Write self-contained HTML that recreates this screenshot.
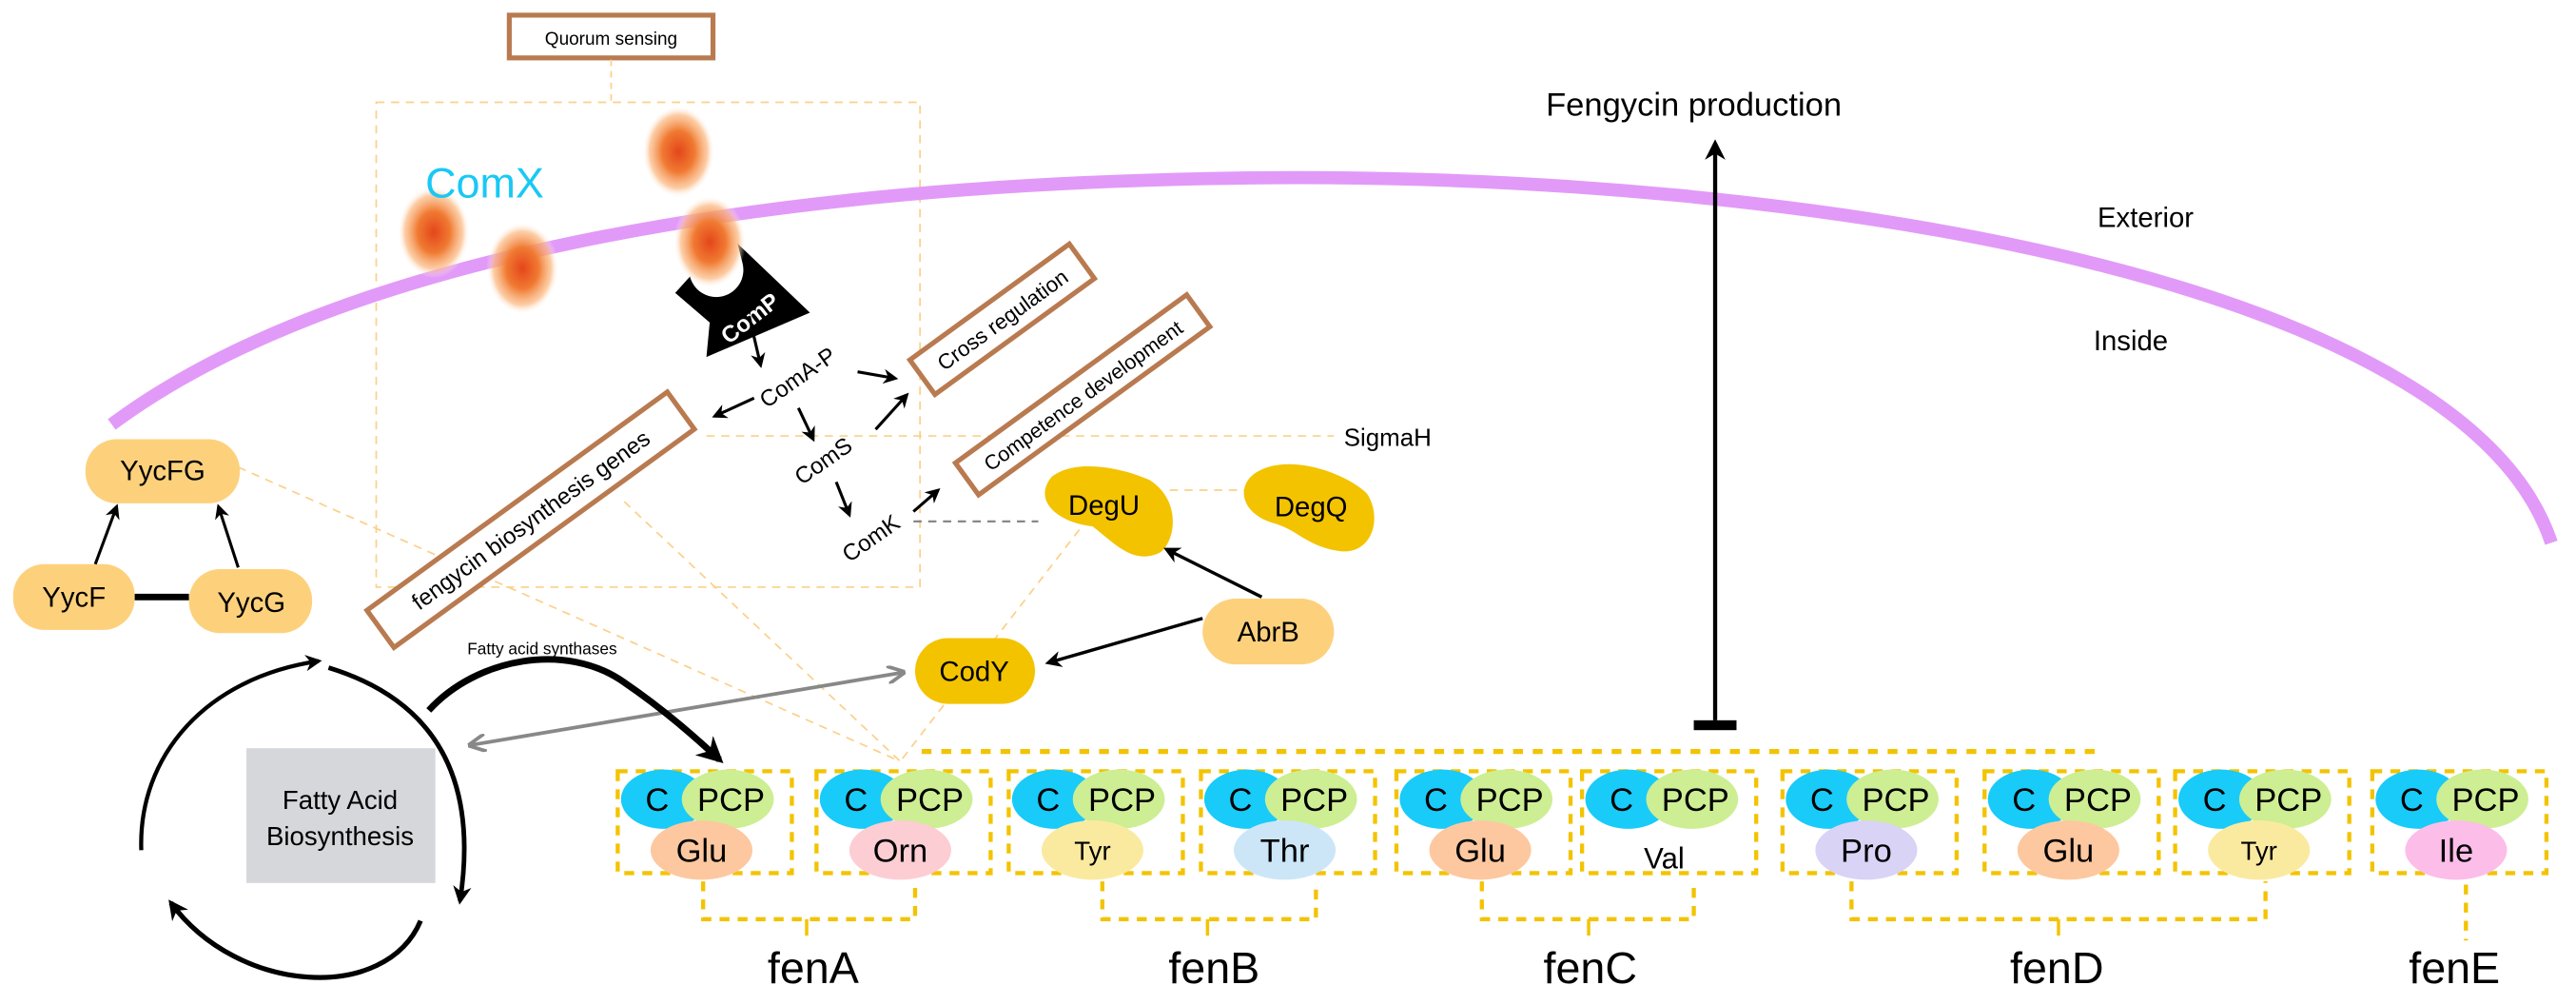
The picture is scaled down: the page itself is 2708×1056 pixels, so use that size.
<!DOCTYPE html>
<html><head><meta charset="utf-8"><style>
html,body{margin:0;padding:0;background:#fff;}
svg{display:block;font-family:"Liberation Sans",sans-serif;}
</style></head><body>
<svg width="2708" height="1056" viewBox="0 0 1568 611" xmlns="http://www.w3.org/2000/svg">
<defs>
<radialGradient id="blob"><stop offset="0" stop-color="#e4461a"/><stop offset="0.45" stop-color="#f07a32"/><stop offset="0.8" stop-color="#fbb880" stop-opacity="0.7"/><stop offset="1" stop-color="#fff" stop-opacity="0"/></radialGradient>
<marker id="ah" viewBox="0 0 10 10" refX="8" refY="5" markerWidth="5" markerHeight="5" orient="auto"><path d="M0,0 L10,5 L0,10 L3,5Z" fill="#000"/></marker>
<marker id="ahg" viewBox="0 0 10 10" refX="8" refY="5" markerWidth="5" markerHeight="5" orient="auto-start-reverse"><path d="M0,0 L10,5 L0,10" fill="none" stroke="#888" stroke-width="2"/></marker>
<marker id="ahb" viewBox="0 0 10 10" refX="8" refY="5" markerWidth="4" markerHeight="4" orient="auto"><path d="M0,0 L10,5 L0,10 L3,5Z" fill="#000"/></marker>
</defs>

<rect x="310" y="9" width="124" height="26" fill="#fff" stroke="#b97a50" stroke-width="3"/>
<text x="372" y="27" font-size="11" text-anchor="middle">Quorum sensing</text>
<line x1="372" y1="36" x2="372" y2="62" stroke="#fcd08a" stroke-width="1" stroke-dasharray="4,3"/>
<rect x="229" y="62" width="331" height="295" fill="none" stroke="#fcd08a" stroke-width="1" stroke-dasharray="5,4"/>

<g stroke="#fcd08a" stroke-width="1" stroke-dasharray="5,4" fill="none">
<line x1="145" y1="284" x2="548" y2="463"/>
<line x1="380" y1="305" x2="548" y2="463"/>
<line x1="657" y1="322" x2="548" y2="463"/>
<line x1="430" y1="265" x2="812" y2="265"/>
<line x1="712" y1="298" x2="760" y2="298"/>
</g>
<line x1="556" y1="317" x2="632" y2="317" stroke="#888" stroke-width="1.3" stroke-dasharray="5,4"/>

<path d="M68,258 C200,160 450,112 760,108 C1100,104 1500,170 1553,330" fill="none" stroke="#e29af8" stroke-width="8"/>

<ellipse cx="264" cy="141" rx="22" ry="28" fill="url(#blob)"/>
<ellipse cx="318" cy="163" rx="22" ry="28" fill="url(#blob)"/>
<ellipse cx="413" cy="92" rx="22" ry="28" fill="url(#blob)"/>
<text x="295" y="120" font-size="26" fill="#19c8f5" text-anchor="middle">ComX</text>

<path d="M411,178 L420,168 A16,16 0 0 0 452,160 L449,148 L493,190 L430,217 L432,196 Z" fill="#000"/>
<ellipse cx="432" cy="147" rx="22" ry="28" fill="url(#blob)"/>
<text x="457" y="198" font-size="14" fill="#fff" text-anchor="middle" transform="rotate(-38 457 194)" font-weight="bold">ComP</text>

<g transform="rotate(-36 610 194)"><rect x="550" y="181" width="120" height="26" fill="#fff" stroke="#b97a50" stroke-width="3"/><text x="610" y="199" font-size="13" text-anchor="middle">Cross regulation</text></g>
<g transform="rotate(-36 659 240)"><rect x="572" y="228" width="174" height="24" fill="#fff" stroke="#b97a50" stroke-width="3"/><text x="659" y="245" font-size="12.5" text-anchor="middle">Competence development</text></g>
<g transform="rotate(-36 323 316)"><rect x="210" y="302" width="226" height="28" fill="#fff" stroke="#b97a50" stroke-width="3"/><text x="323" y="321" font-size="14" text-anchor="middle">fengycin biosynthesis genes</text></g>

<text x="486" y="234" font-size="14" text-anchor="middle" transform="rotate(-35 486 230)">ComA-P</text>
<text x="501" y="285" font-size="14" text-anchor="middle" transform="rotate(-35 501 280)">ComS</text>
<text x="530" y="332" font-size="14" text-anchor="middle" transform="rotate(-35 530 327)">ComK</text>
<g stroke="#000" stroke-width="1.8" marker-end="url(#ah)">
<line x1="456" y1="192" x2="463" y2="222"/>
<line x1="459" y1="242" x2="435" y2="253"/>
<line x1="522" y1="226" x2="545" y2="230"/>
<line x1="533" y1="261" x2="552" y2="240"/>
<line x1="486" y1="248" x2="495" y2="267"/>
<line x1="509" y1="293" x2="517" y2="313"/>
<line x1="556" y1="311" x2="571" y2="298"/>
</g>
<text x="818" y="271" font-size="15">SigmaH</text>

<g font-size="17" text-anchor="middle">
<rect x="52" y="267" width="94" height="39" rx="19" fill="#fdd17c"/><text x="99" y="292">YycFG</text>
<rect x="8" y="343" width="74" height="40" rx="19" fill="#fdd17c"/><text x="45" y="369">YycF</text>
<rect x="115" y="346" width="75" height="39" rx="19" fill="#fdd17c"/><text x="153" y="372">YycG</text>
</g>
<line x1="82" y1="363" x2="115" y2="363" stroke="#000" stroke-width="4"/>
<g stroke="#000" stroke-width="1.8" marker-end="url(#ah)">
<line x1="58" y1="343" x2="71" y2="308"/>
<line x1="145" y1="345" x2="133" y2="308"/>
</g>

<path d="M640,290 C655,278 685,285 700,292 C720,305 715,330 706,336 C690,344 678,330 665,320 C645,318 628,305 640,290Z" fill="#f3c300"/>
<text x="672" y="313" font-size="17" text-anchor="middle">DegU</text>
<path d="M765,287 C785,275 820,288 832,300 C842,315 835,338 815,335 C795,332 790,322 775,318 C755,312 752,295 765,287Z" fill="#f3c300"/>
<text x="798" y="314" font-size="17" text-anchor="middle">DegQ</text>
<rect x="557" y="388" width="73" height="40" rx="20" fill="#f3c300"/><text x="593" y="414" font-size="17" text-anchor="middle">CodY</text>
<rect x="732" y="364" width="80" height="40" rx="20" fill="#fdd17c"/><text x="772" y="390" font-size="17" text-anchor="middle">AbrB</text>
<g stroke="#000" stroke-width="2" marker-end="url(#ah)">
<line x1="768" y1="363" x2="710" y2="334"/>
<line x1="732" y1="376" x2="638" y2="403"/>
</g>
<line x1="287" y1="453" x2="549" y2="409" stroke="#888" stroke-width="2.2" marker-start="url(#ahg)" marker-end="url(#ahg)"/>

<rect x="150" y="455" width="115" height="82" fill="#d5d7db"/>
<text x="207" y="492" font-size="16" text-anchor="middle">Fatty Acid</text>
<text x="207" y="514" font-size="16" text-anchor="middle">Biosynthesis</text>
<path d="M86,517 C84,460 125,412 194,402" fill="none" stroke="#000" stroke-width="2.5" marker-end="url(#ahb)"/>
<path d="M200,406 C262,425 292,470 280,548" fill="none" stroke="#000" stroke-width="2.8" marker-end="url(#ahb)"/>
<path d="M256,560 C235,610 145,605 104,549" fill="none" stroke="#000" stroke-width="3" marker-end="url(#ahb)"/>
<path d="M261,432 C290,400 345,390 380,415 C405,432 425,450 438,462" fill="none" stroke="#000" stroke-width="4" marker-end="url(#ahb)"/>
<text x="330" y="398" font-size="10" text-anchor="middle">Fatty acid synthases</text>

<text x="1031" y="70" font-size="20" text-anchor="middle">Fengycin production</text>
<line x1="1044" y1="438" x2="1044" y2="87" stroke="#000" stroke-width="2.5" marker-end="url(#ah)"/>
<rect x="1031" y="438" width="26" height="6" fill="#000"/>
<text x="1306" y="138" font-size="17" text-anchor="middle">Exterior</text>
<text x="1297" y="213" font-size="17" text-anchor="middle">Inside</text>

<line x1="561" y1="457" x2="1278" y2="457" stroke="#f3c300" stroke-width="3" stroke-dasharray="6,6"/>
<g stroke="#f3c300" stroke-width="2.5" fill="none" stroke-dasharray="6,5">
<rect x="376" y="469" width="106" height="62"/>
<rect x="497" y="469" width="106" height="62"/>
<rect x="614" y="469" width="106" height="62"/>
<rect x="731" y="469" width="106" height="62"/>
<rect x="850" y="469" width="106" height="62"/>
<rect x="963" y="469" width="106" height="62"/>
<rect x="1085" y="469" width="106" height="62"/>
<rect x="1208" y="469" width="106" height="62"/>
<rect x="1324" y="469" width="106" height="62"/>
<rect x="1444" y="469" width="106" height="62"/>
</g>
<g font-size="20" text-anchor="middle">
<ellipse cx="404" cy="486" rx="26" ry="18" fill="#18cbf8"/><ellipse cx="443" cy="486" rx="28" ry="18" fill="#cdee93"/><text x="400" y="493">C</text><text x="445" y="493">PCP</text>
<ellipse cx="427" cy="517" rx="31" ry="18" fill="#fdc89f"/><text x="427" y="524">Glu</text>

<ellipse cx="525" cy="486" rx="26" ry="18" fill="#18cbf8"/><ellipse cx="564" cy="486" rx="28" ry="18" fill="#cdee93"/><text x="521" y="493">C</text><text x="566" y="493">PCP</text>
<ellipse cx="548" cy="517" rx="31" ry="18" fill="#fdcdd4"/><text x="548" y="524">Orn</text>

<ellipse cx="642" cy="486" rx="26" ry="18" fill="#18cbf8"/><ellipse cx="681" cy="486" rx="28" ry="18" fill="#cdee93"/><text x="638" y="493">C</text><text x="683" y="493">PCP</text>
<ellipse cx="665" cy="517" rx="31" ry="18" fill="#faeaa0"/><text x="665" y="523" font-size="16">Tyr</text>

<ellipse cx="759" cy="486" rx="26" ry="18" fill="#18cbf8"/><ellipse cx="798" cy="486" rx="28" ry="18" fill="#cdee93"/><text x="755" y="493">C</text><text x="800" y="493">PCP</text>
<ellipse cx="782" cy="517" rx="31" ry="18" fill="#cce6f8"/><text x="782" y="524">Thr</text>

<ellipse cx="878" cy="486" rx="26" ry="18" fill="#18cbf8"/><ellipse cx="917" cy="486" rx="28" ry="18" fill="#cdee93"/><text x="874" y="493">C</text><text x="919" y="493">PCP</text>
<ellipse cx="901" cy="517" rx="31" ry="18" fill="#fdc89f"/><text x="901" y="524">Glu</text>

<ellipse cx="991" cy="486" rx="26" ry="18" fill="#18cbf8"/><ellipse cx="1030" cy="486" rx="28" ry="18" fill="#cdee93"/><text x="987" y="493">C</text><text x="1032" y="493">PCP</text>
<text x="1013" y="528" font-size="18">Val</text>

<ellipse cx="1113" cy="486" rx="26" ry="18" fill="#18cbf8"/><ellipse cx="1152" cy="486" rx="28" ry="18" fill="#cdee93"/><text x="1109" y="493">C</text><text x="1154" y="493">PCP</text>
<ellipse cx="1136" cy="517" rx="31" ry="18" fill="#d9d3f6"/><text x="1136" y="524">Pro</text>

<ellipse cx="1236" cy="486" rx="26" ry="18" fill="#18cbf8"/><ellipse cx="1275" cy="486" rx="28" ry="18" fill="#cdee93"/><text x="1232" y="493">C</text><text x="1277" y="493">PCP</text>
<ellipse cx="1259" cy="517" rx="31" ry="18" fill="#fdc89f"/><text x="1259" y="524">Glu</text>

<ellipse cx="1352" cy="486" rx="26" ry="18" fill="#18cbf8"/><ellipse cx="1391" cy="486" rx="28" ry="18" fill="#cdee93"/><text x="1348" y="493">C</text><text x="1393" y="493">PCP</text>
<ellipse cx="1375" cy="517" rx="31" ry="18" fill="#faeaa0"/><text x="1375" y="523" font-size="16">Tyr</text>

<ellipse cx="1472" cy="486" rx="26" ry="18" fill="#18cbf8"/><ellipse cx="1511" cy="486" rx="28" ry="18" fill="#cdee93"/><text x="1468" y="493">C</text><text x="1513" y="493">PCP</text>
<ellipse cx="1495" cy="517" rx="31" ry="18" fill="#fcbde9"/><text x="1495" y="524">Ile</text>
</g>

<g stroke="#f3c300" stroke-width="2.5" fill="none" stroke-dasharray="6,5">
<path d="M428,536 V559 H557 V536"/>
<path d="M671,536 V559 H801 V536"/>
<path d="M902,536 V559 H1031 V536"/>
<path d="M1127,536 V559 H1379 V536"/>
<line x1="1501" y1="538" x2="1501" y2="572"/>
</g>
<g stroke="#f3c300" stroke-width="2" fill="none">
<line x1="491" y1="559" x2="491" y2="569"/>
<line x1="735" y1="559" x2="735" y2="569"/>
<line x1="967" y1="559" x2="967" y2="569"/>
<line x1="1253" y1="559" x2="1253" y2="569"/>
</g>
<g font-size="27" text-anchor="middle">
<text x="495" y="598">fenA</text>
<text x="739" y="598">fenB</text>
<text x="968" y="598">fenC</text>
<text x="1252" y="598">fenD</text>
<text x="1494" y="598">fenE</text>
</g>
</svg>
</body></html>
